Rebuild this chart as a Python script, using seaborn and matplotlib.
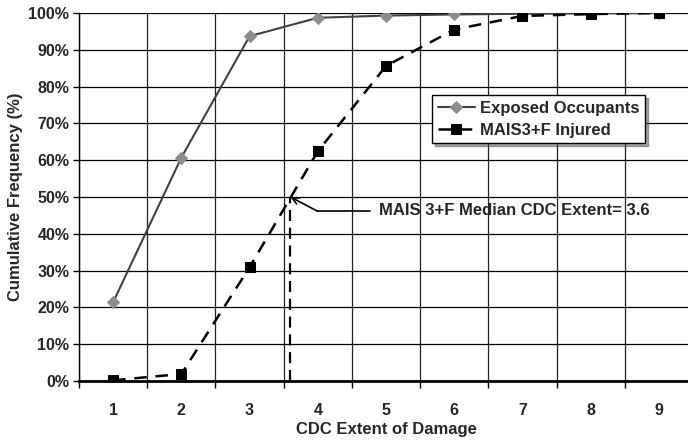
import numpy as np
import pandas as pd
import matplotlib
matplotlib.use("Agg")
import matplotlib.pyplot as plt
import seaborn as sns
from matplotlib.ticker import FixedLocator, PercentFormatter

sns.set_theme(style="white")
plt.rcParams['font.family'] = ['Liberation Sans', 'DejaVu Sans']
plt.rcParams['font.weight'] = 'bold'

# data
cdc_extent = [1, 2, 3, 4, 5, 6, 7, 8, 9]
exposed_pct = [21.4, 60.7, 93.7, 98.7, 99.3, 99.6, 99.8, 99.9, 100.0]
mais3f_pct = [0.2, 1.9, 30.9, 62.4, 85.6, 95.5, 99.2, 99.7, 100.0]
median_cdc = 3.6
median_label = "MAIS 3+F Median CDC Extent= 3.6"

df = pd.DataFrame({"cdc": cdc_extent * 2,
                   "pct": exposed_pct + mais3f_pct,
                   "series": ["Exposed Occupants"] * 9 + ["MAIS3+F Injured"] * 9})

fig = plt.figure(figsize=(6.88, 4.41), dpi=100)
ax = fig.add_axes([79 / 688, 1 - 381 / 441, 614 / 688, 368 / 441])

sns.lineplot(data=df[df.series == "Exposed Occupants"], x="cdc", y="pct", ax=ax,
             color='#404040', lw=1.5, marker='D', markersize=6.5,
             markerfacecolor='#8c8c8c', markeredgecolor='#8c8c8c',
             label="Exposed Occupants")
sns.lineplot(data=df[df.series == "MAIS3+F Injured"], x="cdc", y="pct", ax=ax,
             color='black', lw=1.8, marker='s', markersize=7,
             markerfacecolor='black', markeredgecolor='black',
             label="MAIS3+F Injured")
ax.lines[1].set_linestyle((0, (5, 3.5)))

# median line + callout
ax.plot([median_cdc, median_cdc], [0, 50], color='black', lw=1.6,
        ls=(0, (5, 3)), zorder=3)
ax.annotate("", xy=(median_cdc, 50), xytext=(3.99, 46.2),
            arrowprops=dict(arrowstyle='->', color='black', lw=1.2,
                            shrinkA=0, shrinkB=0))
ax.plot([3.99, 4.77], [46.2, 46.2], color='black', lw=1.2)
ax.text(4.9, 46.2, median_label, fontsize=12, fontweight='bold', va='center', ha='left')

ax.set_xlim(0.5, 9.5)
ax.set_ylim(0, 100)
ax.set_xticks(cdc_extent)
ax.set_xticklabels([str(c) for c in cdc_extent], fontsize=11.5, fontweight='bold')
ax.xaxis.set_minor_locator(FixedLocator(np.arange(0.5, 10, 1)))
ax.set_yticks(np.arange(0, 101, 10))
ax.yaxis.set_major_formatter(PercentFormatter(decimals=0))
for lab in ax.get_yticklabels():
    lab.set_fontsize(11.5)
    lab.set_fontweight('bold')

ax.tick_params(axis='x', which='major', length=0, pad=16)
ax.tick_params(axis='x', which='minor', length=5, width=1, color='black', direction='out', bottom=True)
ax.tick_params(axis='y', which='major', length=4, width=1, color='black', direction='out', left=True, pad=3)
ax.grid(True, axis='y', which='major', color='black', lw=0.9)
ax.grid(True, axis='x', which='minor', color='#222222', lw=0.9)
ax.grid(False, axis='x', which='major')

for s in ['top', 'right']:
    ax.spines[s].set_visible(False)
ax.spines['left'].set_color('black')
ax.spines['left'].set_linewidth(1)
ax.spines['bottom'].set_color('black')
ax.spines['bottom'].set_linewidth(2)

ax.set_xlabel("CDC Extent of Damage", fontsize=12, fontweight='bold', labelpad=3)
ax.set_ylabel("Cumulative Frequency (%)", fontsize=12, fontweight='bold', labelpad=4)

leg = ax.legend(loc='upper left', bbox_to_anchor=((432 - 79) / 614, (381 - 95) / 368),
                frameon=True, fancybox=False, shadow=True, fontsize=12,
                handlelength=2.2, handletextpad=0.3, borderpad=0.35, labelspacing=0.4,
                borderaxespad=0)
leg.get_frame().set_edgecolor('black')
leg.get_frame().set_linewidth(1)
for t in leg.get_texts():
    t.set_fontweight('bold')

fig.savefig("out.png", dpi=100)
